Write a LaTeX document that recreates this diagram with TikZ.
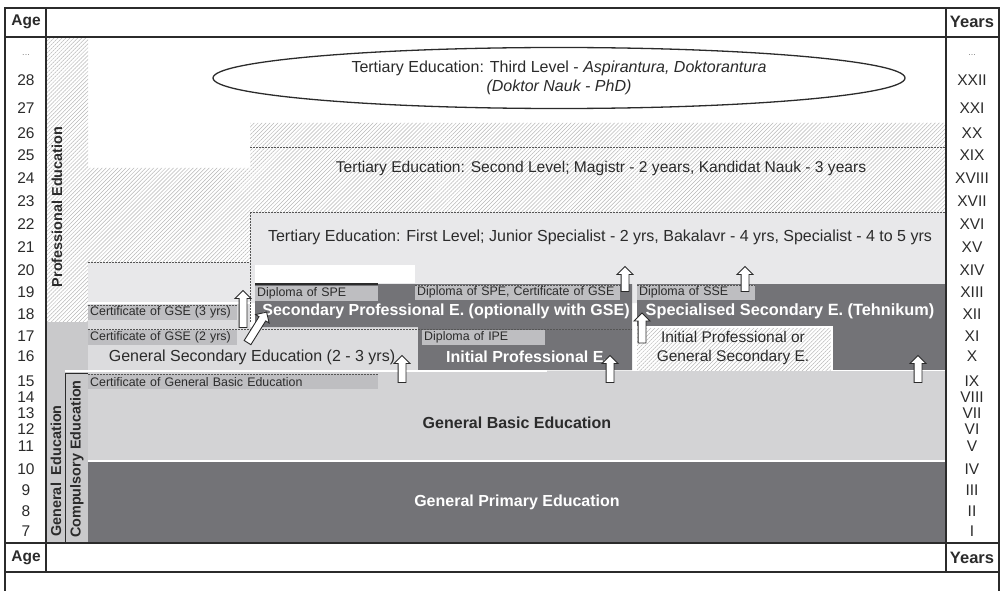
\documentclass[tikz,border=0pt]{standalone}
\usepackage{fontspec}
\setmainfont{Liberation Sans}
\usetikzlibrary{positioning}
\usetikzlibrary{patterns.meta, shapes.geometric, shapes.arrows}

\definecolor{darkband}{HTML}{737377}
\definecolor{basicband}{HTML}{D3D3D5}
\definecolor{firstband}{HTML}{E8E8EA}
\definecolor{gseband}{HTML}{DCDCDE}
\definecolor{genband}{HTML}{C9C9CB}
\definecolor{certgray}{HTML}{BEBEC1}
\definecolor{inkgray}{HTML}{2B2B2B}
\definecolor{hatchgray}{HTML}{B8B8B8}

\begin{document}
\begin{tikzpicture}[x=1pt, y=-1pt,
    hatched/.style={pattern={Lines[angle=45,distance=2.8pt,line width=0.5pt]}, pattern color=hatchgray},
    frameline/.style={line width=1.4pt, draw=inkgray},
    dashline/.style={draw=inkgray!80, line width=0.7pt, dash pattern=on 2pt off 1pt},
    certbox/.style={fill=certgray, anchor=north west, inner xsep=2pt, inner ysep=0pt,
        minimum height=15pt, text=inkgray, align=left, font=\fontsize{12.4}{13}\selectfont},
    agelbl/.style={text=inkgray, font=\fontsize{15.5}{16}\selectfont},
    headlbl/.style={text=inkgray, font=\bfseries\fontsize{15.5}{16}\selectfont},
    leveltxt/.style={text=inkgray, font=\fontsize{16}{19}\selectfont, align=center},
    whitetxt/.style={text=white, font=\bfseries\fontsize{16}{17}\selectfont},
    sidetxt/.style={text=inkgray, rotate=90, font=\bfseries\fontsize{14.4}{15}\selectfont},
    blockarrow/.style={single arrow, draw=inkgray, fill=white, line width=0.9pt, inner xsep=0pt,
        inner ysep=3.5pt, single arrow head extend=4pt, single arrow tip angle=90,
        minimum height=27pt},
    uparrow/.style={blockarrow, rotate=90}]

  \useasboundingbox (0,0) rectangle (1002,591);

  \fill[white] (47,38) rectangle (946,543);
  \fill[hatched] (47,38) rectangle (88,322);
  \fill[hatched] (88,168) -- (250,168) -- (250,123) -- (946,123) -- (946,212) -- (250,212) -- (250,262) -- (88,262) -- cycle;
  \fill[firstband] (88,262) -- (250,262) -- (250,212) -- (946,212) -- (946,303) -- (88,303) -- cycle;
  \fill[white] (255,265) rectangle (415,283);
  \fill[gseband] (88,303) -- (250,303) -- (250,327) -- (418,327) -- (418,371) -- (88,371) -- cycle;
  \fill[genband] (47,322) rectangle (88,543);
  \fill[basicband] (88,371) rectangle (946,460);
  \fill[darkband] (88,462) rectangle (946,543);
  \fill[darkband] (255,284) rectangle (632,327) (418,327) rectangle (632,370);
  \fill[darkband] (637,284) rectangle (946,370);
  \fill[white] (637,327) rectangle (832,370);
  \fill[hatched] (637,327) rectangle (832,370);
  \draw[white, line width=1.5pt] (637,327) -- (832,327) -- (832,370);
  \draw[white, line width=1.5pt] (88,303) -- (250,303) (65,371) -- (547,371);
  \draw[dashline] (250,147) -- (946,147) (88,262) -- (250,262) (250,212) -- (946,212) (250,212) -- (250,322);
  \draw[dashline] (88,329) -- (632,329);
  \draw[line width=1pt, inkgray] (65,543) -- (65,373) -- (88,373);
  \draw[line width=1.2pt, inkgray] (255,284) -- (378,284);

  \node[draw=inkgray, ellipse, line width=1.3pt, minimum width=692pt, minimum height=61pt, leveltxt] (third) at (559,78)
    {Tertiary Education: Third Level - \textit{Aspirantura, Doktorantura}\\\textit{(Doktor Nauk - PhD)}};
  \node[leveltxt, font=\fontsize{15.6}{19}\selectfont] (second) at (601,168) {Tertiary Education: Second Level; Magistr - 2 years, Kandidat Nauk - 3 years};
  \node[leveltxt] (first) at (600,237) {Tertiary Education: First Level; Junior Specialist - 2 yrs, Bakalavr - 4 yrs, Specialist - 4 to 5 yrs};

  \node[certbox, text width=119pt] (dipspe) at (255,286) {Diploma of SPE};
  \node[certbox, text width=201pt] (dipspegse) at (415,285) {Diploma of SPE, Certificate of GSE};
  \node[certbox, text width=114pt] (dipsse) at (637,285) {Diploma of SSE};
  \node[certbox, text width=145pt] (certgse3) at (88,305) {Certificate of GSE (3 yrs)};
  \node[certbox, text width=145pt] (certgse2) at (88,330) {Certificate of GSE (2 yrs)};
  \node[certbox, text width=119pt] (dipipe) at (422,330) {Diploma of IPE};
  \node[certbox, text width=286pt] (certgbe) at (88,374) {Certificate of General Basic Education};
  \draw[dashline] (dipspegse.north west) -- (dipspegse.north east) (dipsse.north west) -- (dipsse.north east)
    (certgse3.north west) -- (certgse3.north east) (certgbe.north west) -- (certgbe.north east);

  \node[whitetxt] (spe) at (446,311) {Secondary Professional E. (optionally with GSE)};
  \node[whitetxt, font=\bfseries\fontsize{16.3}{17}\selectfont] (sse) at (790,311) {Specialised Secondary E. (Tehnikum)};
  \node[whitetxt] (ipe) at (527,357) {Initial Professional E.};
  \node[leveltxt, font=\fontsize{15.5}{19.5}\selectfont] (ipgse) at (733,348) {Initial Professional or\\General Secondary E.};
  \node[leveltxt] (gse) at (252,357) {General Secondary Education (2 - 3 yrs)};
  \node[leveltxt, font=\bfseries\fontsize{16}{17}\selectfont] (gbe) at (517,423) {General Basic Education};
  \node[whitetxt] (gpe) at (517,502) {General Primary Education};
  \node[sidetxt] (profed) at (57,207) {Professional Education};
  \node[sidetxt] (gened) at (56,471) {General\ \ Education};
  \node[sidetxt] (comped) at (77,459) {Compulsory Education};

  \node[uparrow, minimum height=37pt] (arrgse) at (243,311) {};
  \node[blockarrow, rotate=58, minimum height=36pt] (arrdiag) at (256,329) {};
  \node[uparrow] (arrgsetop) at (402,371) {};
  \node[uparrow] (arripe) at (610,371) {};
  \node[uparrow] (arrsse) at (918,371) {};
  \node[uparrow, minimum height=25pt] (arrspe) at (625,281) {};
  \node[uparrow, minimum height=25pt] (arrdipsse) at (745,281) {};
  \node[uparrow, minimum height=30pt] (arripgse) at (642,330) {};

  \draw[frameline] (5,591) -- (5,8) -- (999,8) -- (999,591);
  \draw[frameline] (5,37) -- (999,37) (5,543) -- (999,543) (5,572) -- (999,572);
  \draw[frameline] (46,8) -- (46,572) (946,8) -- (946,572);

  \node[headlbl] (agetop) at (26,22) {Age};
  \node[headlbl, font=\bfseries\fontsize{16.5}{17}\selectfont] (yearstop) at (972,22) {Years};
  \node[headlbl] (agebot) at (26,558) {Age};
  \node[headlbl, font=\bfseries\fontsize{16.5}{17}\selectfont] (yearsbot) at (972,558) {Years};
  \node[agelbl, text=gray, font=\fontsize{9}{10}\selectfont] (agedots) at (26,55) {...};
  \node[agelbl, text=gray, font=\fontsize{9}{10}\selectfont] (yrdots) at (972,55) {...};
  \foreach \yy/\age/\yr in {80/28/XXII, 108/27/XXI, 133/26/XX, 155/25/XIX, 178/24/XVIII, 201/23/XVII,
      224/22/XVI, 247/21/XV, 270/20/XIV, 292/19/XIII, 314/18/XII, 336/17/XI, 356/16/X, 381/15/IX,
      397/14/VIII, 413/13/VII, 429/12/VI, 446/11/V, 469/10/IV, 490/9/III, 511/8/II, 531/7/I}{
    \node[agelbl] (age\age) at (26,\yy) {\age};
    \node[agelbl] (yr\age) at (972,\yy) {\yr};
  }
\end{tikzpicture}
\end{document}
